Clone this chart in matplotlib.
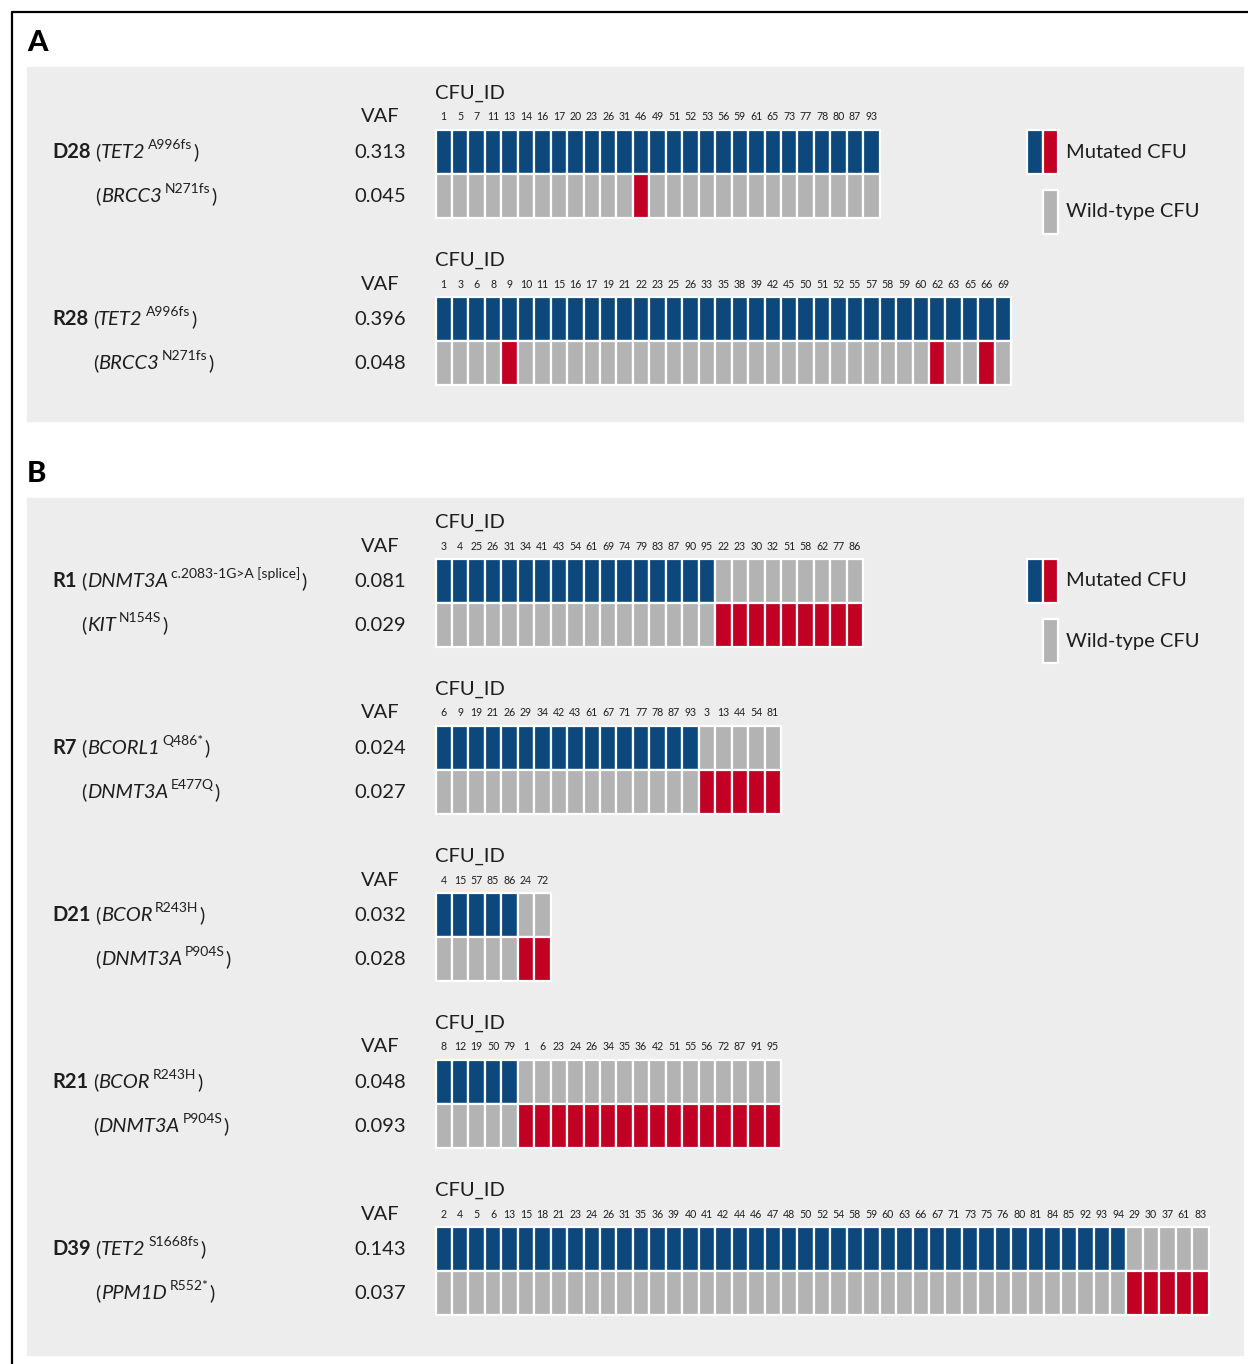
import numpy as np
import matplotlib.pyplot as plt
from matplotlib.patches import Rectangle

plt.rcParams['font.family'] = ['Lato', 'DejaVu Sans']

BLUE = '#0d487c'
RED = '#c20023'
GREY = '#b3b3b3'
BG = '#ededed'
INK = '#1e1e1e'

# ---- data: CFU ids in plotted order, ids mutated for gene 1 / gene 2, VAFs
d28_ids = [1, 5, 7, 11, 13, 14, 16, 17, 20, 23, 26, 31, 46, 49, 51, 52, 53, 56, 59, 61, 65, 73, 77, 78, 80, 87, 93]
d28_mut1 = [1, 5, 7, 11, 13, 14, 16, 17, 20, 23, 26, 31, 46, 49, 51, 52, 53, 56, 59, 61, 65, 73, 77, 78, 80, 87, 93]
d28_mut2 = [46]
d28_genes = [('TET2', 'A996fs'), ('BRCC3', 'N271fs')]
d28_vaf = [0.313, 0.045]

r28_ids = [1, 3, 6, 8, 9, 10, 11, 15, 16, 17, 19, 21, 22, 23, 25, 26, 33, 35, 38, 39, 42, 45, 50, 51, 52, 55, 57, 58, 59, 60, 62, 63, 65, 66, 69]
r28_mut1 = [1, 3, 6, 8, 9, 10, 11, 15, 16, 17, 19, 21, 22, 23, 25, 26, 33, 35, 38, 39, 42, 45, 50, 51, 52, 55, 57, 58, 59, 60, 62, 63, 65, 66, 69]
r28_mut2 = [9, 62, 66]
r28_genes = [('TET2', 'A996fs'), ('BRCC3', 'N271fs')]
r28_vaf = [0.396, 0.048]

r1_ids = [3, 4, 25, 26, 31, 34, 41, 43, 54, 61, 69, 74, 79, 83, 87, 90, 95, 22, 23, 30, 32, 51, 58, 62, 77, 86]
r1_mut1 = [3, 4, 25, 26, 31, 34, 41, 43, 54, 61, 69, 74, 79, 83, 87, 90, 95]
r1_mut2 = [22, 23, 30, 32, 51, 58, 62, 77, 86]
r1_genes = [('DNMT3A', 'c.2083-1G>A [splice]'), ('KIT', 'N154S')]
r1_vaf = [0.081, 0.029]

r7_ids = [6, 9, 19, 21, 26, 29, 34, 42, 43, 61, 67, 71, 77, 78, 87, 93, 3, 13, 44, 54, 81]
r7_mut1 = [6, 9, 19, 21, 26, 29, 34, 42, 43, 61, 67, 71, 77, 78, 87, 93]
r7_mut2 = [3, 13, 44, 54, 81]
r7_genes = [('BCORL1', 'Q486*'), ('DNMT3A', 'E477Q')]
r7_vaf = [0.024, 0.027]

d21_ids = [4, 15, 57, 85, 86, 24, 72]
d21_mut1 = [4, 15, 57, 85, 86]
d21_mut2 = [24, 72]
d21_genes = [('BCOR', 'R243H'), ('DNMT3A', 'P904S')]
d21_vaf = [0.032, 0.028]

r21_ids = [8, 12, 19, 50, 79, 1, 6, 23, 24, 26, 34, 35, 36, 42, 51, 55, 56, 72, 87, 91, 95]
r21_mut1 = [8, 12, 19, 50, 79]
r21_mut2 = [1, 6, 23, 24, 26, 34, 35, 36, 42, 51, 55, 56, 72, 87, 91, 95]
r21_genes = [('BCOR', 'R243H'), ('DNMT3A', 'P904S')]
r21_vaf = [0.048, 0.093]

d39_ids = [2, 4, 5, 6, 13, 15, 18, 21, 23, 24, 26, 31, 35, 36, 39, 40, 41, 42, 44, 46, 47, 48, 50, 52,
           54, 58, 59, 60, 63, 66, 67, 71, 73, 75, 76, 80, 81, 84, 85, 92, 93, 94, 29, 30, 37, 61, 83]
d39_mut1 = [2, 4, 5, 6, 13, 15, 18, 21, 23, 24, 26, 31, 35, 36, 39, 40, 41, 42, 44, 46, 47, 48, 50, 52,
            54, 58, 59, 60, 63, 66, 67, 71, 73, 75, 76, 80, 81, 84, 85, 92, 93, 94]
d39_mut2 = [29, 30, 37, 61, 83]
d39_genes = [('TET2', 'S1668fs'), ('PPM1D', 'R552*')]
d39_vaf = [0.143, 0.037]

panel_a = [('D28', d28_ids, d28_mut1, d28_mut2, d28_genes, d28_vaf),
           ('R28', r28_ids, r28_mut1, r28_mut2, r28_genes, r28_vaf)]
panel_b = [('R1', r1_ids, r1_mut1, r1_mut2, r1_genes, r1_vaf),
           ('R7', r7_ids, r7_mut1, r7_mut2, r7_genes, r7_vaf),
           ('D21', d21_ids, d21_mut1, d21_mut2, d21_genes, d21_vaf),
           ('R21', r21_ids, r21_mut1, r21_mut2, r21_genes, r21_vaf),
           ('D39', d39_ids, d39_mut1, d39_mut2, d39_genes, d39_vaf)]

# ---- layout (pixels)
W, H = 1248, 1364
X0 = 435.5        # left of cell grids
PITCH = 16.45
STEP = 167
FS = 14.5
FS_SUP = 10

fig = plt.figure(figsize=(W / 100, H / 100), dpi=100)
ax = fig.add_axes([0, 0, 1, 1])
ax.set_xlim(0, W)
ax.set_ylim(H, 0)
ax.axis('off')
renderer = fig.canvas.get_renderer()


def put(x, y, s, **kw):
    t = ax.text(x, y, s, va='baseline', ha='left', color=INK, **kw)
    return t.get_window_extent(renderer).x1


def gene_label(x, y, gene, mut):
    x = put(x, y, '(', fontsize=FS)
    x = put(x, y, gene, fontsize=FS, fontstyle='italic') + 3
    x = put(x, y - 9, mut, fontsize=FS_SUP)
    put(x + 1, y, ')', fontsize=FS)


def draw_block(c, name, ids, mut1, mut2, genes, vaf):
    n = len(ids)
    xs = X0 + np.arange(n) * PITCH
    ax.text(X0, c + 1, 'CFU_ID', fontsize=FS, va='center', ha='left', color=INK)
    ax.text(380, c + 25, 'VAF', fontsize=FS, va='center', ha='center', color=INK)
    for x, cid in zip(xs, ids):
        ax.text(x + PITCH / 2, c + 25, str(cid), fontsize=7.6, va='center', ha='center', color=INK)
    col1 = [BLUE if i in mut1 else GREY for i in ids]
    col2 = [RED if i in mut2 else GREY for i in ids]
    ax.bar(xs, 44, width=PITCH, bottom=c + 38, align='edge', color=col1, edgecolor='white', linewidth=1.6)
    ax.bar(xs, 44, width=PITCH, bottom=c + 82, align='edge', color=col2, edgecolor='white', linewidth=1.6)
    # left labels
    base1, base2 = c + 66, c + 110
    xp = put(52, base1, name, fontsize=FS, fontweight='bold') + 5
    gene_label(xp, base1, *genes[0])
    gene_label(xp, base2, *genes[1])
    ax.text(380, base1, '%.3f' % vaf[0], fontsize=FS, va='baseline', ha='center', color=INK)
    ax.text(380, base2, '%.3f' % vaf[1], fontsize=FS, va='baseline', ha='center', color=INK)


def draw_legend(c):
    ax.bar([1027, 1042.5], 44, width=15.5, bottom=c + 38, align='edge', color=[BLUE, RED],
           edgecolor='white', linewidth=1.6)
    ax.bar([1042.5], 44, width=15.5, bottom=c + 98, align='edge', color=[GREY],
           edgecolor='white', linewidth=1.6)
    ax.text(1066, c + 60, 'Mutated CFU', fontsize=FS, va='center', ha='left', color=INK)
    ax.text(1066, c + 120, 'Wild-type CFU', fontsize=FS, va='center', ha='left', color=INK)


# frame and panel backgrounds
ax.plot([12, 12, W], [H, 12, 12], color='black', lw=1.6, solid_capstyle='butt')
ax.add_patch(Rectangle((27, 67), 1216, 354, color=BG, zorder=0))
ax.add_patch(Rectangle((27, 498), 1216, 857, color=BG, zorder=0))
ax.text(27, 43, 'A', fontsize=21, fontweight='black', va='center', ha='left', color='black')
ax.text(27, 474, 'B', fontsize=21, fontweight='black', va='center', ha='left', color='black')

for k, blk in enumerate(panel_a):
    draw_block(92 + k * STEP, *blk)
draw_legend(92)

for k, blk in enumerate(panel_b):
    draw_block(521 + k * STEP, *blk)
draw_legend(521)

fig.savefig('out.png', dpi=100)
